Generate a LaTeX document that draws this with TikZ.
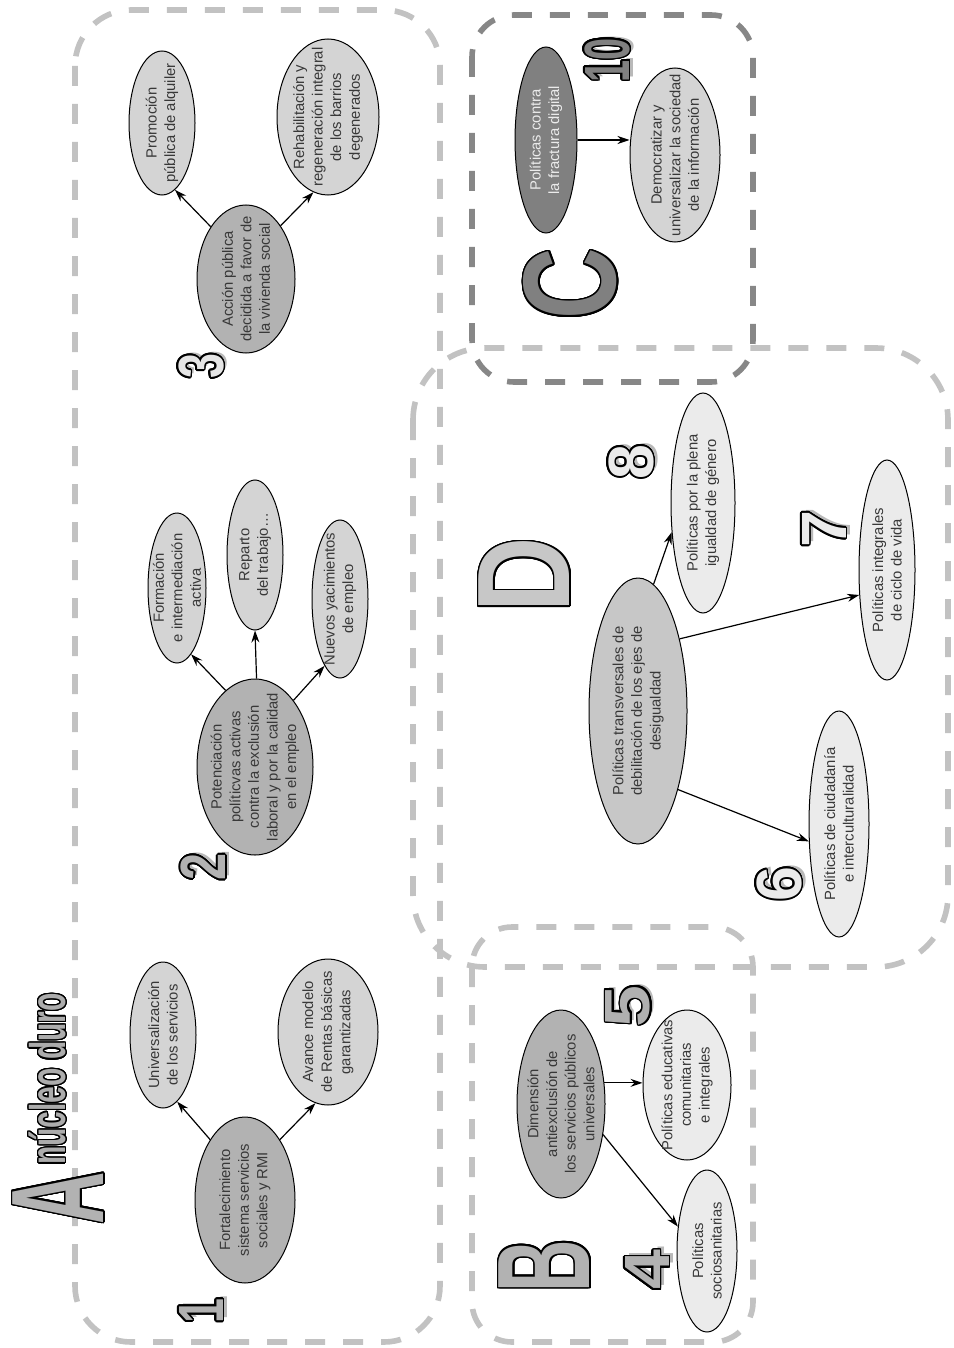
\documentclass[tikz,border=0pt]{standalone}
\usepackage{fontspec}
\setmainfont{Liberation Sans}
\usepackage{contour}
\usetikzlibrary{shapes.geometric,arrows.meta}
\contourlength{0.8pt}
\contournumber{24}

\definecolor{zonelight}{gray}{0.76}
\definecolor{zonedark}{gray}{0.53}
\definecolor{ellmid}{gray}{0.70}
\definecolor{ellsoft}{gray}{0.83}
\definecolor{ellpale}{gray}{0.92}
\definecolor{elldark}{gray}{0.50}
\definecolor{ellgrey}{gray}{0.78}

\begin{document}
\begin{tikzpicture}[x=0.5pt, y=-0.5pt,
	zonebox/.style={line width=2.8pt, dash pattern=on 10pt off 9pt},
	bubble/.style={ellipse, draw=black, line width=0.5pt, inner sep=0pt},
	txt/.style={rotate=90, align=center, inner sep=0pt, text=black!78, font=\fontsize{7.4}{9.3}\selectfont},
	arr/.style={-{Stealth[length=6pt,width=4pt]}, line width=0.6pt},
	bigletter/.style={rotate=90, inner sep=0pt, font=\fontsize{66}{66}\selectfont\bfseries},
	numlabel/.style={rotate=90, inner sep=0pt, font=\fontsize{32}{32}\selectfont\bfseries},
	numshadow/.style={numlabel, text=gray!55}]
	\useasboundingbox (0,0) rectangle (953,1348);

	% zones
	\draw[zonebox, zonelight, rounded corners=28pt] (75,10) rectangle (440,1342);
	\draw[zonebox, zonelight, rounded corners=36pt] (413,348) rectangle (948,967);
	\draw[zonebox, zonelight, rounded corners=20pt] (472,927) rectangle (753,1342);
	\draw[zonebox, zonedark, rounded corners=21pt] (472,15) rectangle (753,382);

	% headings
	\node[bigletter, text=ellmid] (letA) at (59,1198) {\contour{black}{\scalebox{0.55}[1]{A}}};
	\node[rotate=90, inner sep=0pt, font=\fontsize{25}{25}\selectfont\bfseries, text=gray!65] (core) at (48,1079) {\contourlength{0.6pt}\contour{black}{\scalebox{0.6}[1]{núcleo duro}}};
	\node[bigletter, text=ellmid] (letB) at (545,1266) {\contour{black}{\scalebox{0.55}[1]{B}}};
	\node[bigletter, text=elldark] (letC) at (571,284) {\contour{black}{\scalebox{0.75}[1]{C}}};
	\node[bigletter, text=ellgrey] (letD) at (525,575) {\contour{black}{\scalebox{0.79}[1]{D}}};

	% numbers
	\node[numshadow] (n1s) at (205,1308) {\scalebox{0.7}[1]{1}};
	\node[numlabel, text=gray!62] (n1) at (202,1311) {\contour{black}{\scalebox{0.7}[1]{1}}};
	\node[numshadow] (n2s) at (207,864) {\scalebox{0.76}[1]{2}};
	\node[numlabel, text=ellmid] (n2) at (204,867) {\contour{black}{\scalebox{0.76}[1]{2}}};
	\node[numshadow] (n3s) at (205,363) {\scalebox{0.7}[1]{3}};
	\node[numlabel, text=gray!20] (n3) at (202,366) {\contour{black}{\scalebox{0.7}[1]{3}}};
	\node[numshadow] (n4s) at (651,1267) {\scalebox{1.12}[1]{4}};
	\node[numlabel, text=ellmid] (n4) at (648,1270) {\contour{black}{\scalebox{1.12}[1]{4}}};
	\node[numshadow] (n5s) at (632,1003) {\scalebox{1.18}[1]{5}};
	\node[numlabel, text=gray!62] (n5) at (629,1006) {\contour{black}{\scalebox{1.18}[1]{5}}};
	\node[numshadow] (n6s) at (783,881) {\scalebox{0.98}[1]{6}};
	\node[numlabel, text=ellpale] (n6) at (780,884) {\contour{black}{\scalebox{0.98}[1]{6}}};
	\node[numshadow] (n7s) at (828,526) {\scalebox{1.04}[1]{7}};
	\node[numlabel, text=ellpale] (n7) at (825,529) {\contour{black}{\scalebox{1.04}[1]{7}}};
	\node[numshadow] (n8s) at (635,459) {\scalebox{0.98}[1]{8}};
	\node[numlabel, text=ellpale] (n8) at (632,462) {\contour{black}{\scalebox{0.98}[1]{8}}};
	\node[numshadow] (n10s) at (611,57) {\scalebox{0.62}[1]{10}};
	\node[numlabel, text=elldark] (n10) at (608,60) {\contour{black}{\scalebox{0.62}[1]{10}}};

	% A: nucleo duro
	\node[bubble, fill=ellmid, minimum width=50pt, minimum height=83pt] (e1) at (245,1200) {};
	\node[txt] (e1t) at (e1) {Fortalecimiento\\sistema servicios\\sociales y RMI};
	\node[bubble, fill=ellsoft, minimum width=33pt, minimum height=73pt] (e1a) at (163,1035) {};
	\node[txt] (e1at) at (e1a) {Universalización\\de los servicios};
	\node[bubble, fill=ellsoft, minimum width=50pt, minimum height=73pt] (e1b) at (328,1032) {};
	\node[txt] (e1bt) at (e1b) {Avance modelo\\de Rentas básicas\\garantizadas};

	\node[bubble, fill=ellmid, minimum width=58pt, minimum height=88pt] (e2) at (255,767) {};
	\node[txt] (e2t) at (e2) {Potenciación\\políticvas activas\\contra la exclusión\\laboral y por la calidad\\en el empleo};
	\node[bubble, fill=ellsoft, minimum width=29pt, minimum height=75pt] (e2a) at (177,588) {};
	\node[txt] (e2at) at (e2a) {Formación\\e intermediación\\activa};
	\node[bubble, fill=ellsoft, minimum width=28pt, minimum height=75pt] (e2b) at (255,555) {};
	\node[txt] (e2bt) at (e2b) {Reparto\\del trabajo…};
	\node[bubble, fill=ellsoft, minimum width=28pt, minimum height=79pt] (e2c) at (340,599) {};
	\node[txt] (e2ct) at (e2c) {Nuevos yacimientos\\de empleo};

	\node[bubble, fill=ellmid, minimum width=49pt, minimum height=74pt] (e3) at (246,279) {};
	\node[txt] (e3t) at (e3) {Acción pública\\decidida a favor de\\la vivienda social};
	\node[bubble, fill=ellsoft, minimum width=33pt, minimum height=72pt] (e3a) at (162,123) {};
	\node[txt] (e3at) at (e3a) {Promoción\\pública de alquiler};
	\node[bubble, fill=ellsoft, minimum width=51pt, minimum height=78pt] (e3b) at (328,117) {};
	\node[txt] (e3bt) at (e3b) {Rehabilitación y\\regeneración integral\\de los barrios\\degenerados};

	% C
	\node[bubble, fill=elldark, minimum width=31pt, minimum height=93pt] (ec) at (546,140) {};
	\node[txt, text=white!92!black] (ect) at (ec) {Políticas contra\\la fractura digital};
	\node[bubble, fill=ellsoft, minimum width=45pt, minimum height=87pt] (eca) at (675,155) {};
	\node[txt] (ecat) at (eca) {Democratizar y\\universalizar la sociedad\\de la información};

	% D
	\node[bubble, fill=ellgrey, minimum width=49pt, minimum height=133pt] (ed) at (638,711) {};
	\node[txt] (edt) at (ed) {Políticas transversales de\\debilitación de los ejes de\\desigualdad};
	\node[bubble, fill=ellpale, minimum width=32pt, minimum height=110pt] (ed8) at (703,503) {};
	\node[txt] (ed8t) at (ed8) {Políticas por la plena\\igualdad de género};
	\node[bubble, fill=ellpale, minimum width=28pt, minimum height=110pt] (ed7) at (887,570) {};
	\node[txt] (ed7t) at (ed7) {Políticas integrales\\de ciclo de vida};
	\node[bubble, fill=ellpale, minimum width=30pt, minimum height=113pt] (ed6) at (839,824) {};
	\node[txt] (ed6t) at (ed6) {Políticas de ciudadanía\\e interculturalidad};

	% B
	\node[bubble, fill=ellmid, minimum width=44pt, minimum height=94pt] (eb) at (561,1104) {};
	\node[txt] (ebt) at (eb) {Dimensión\\antiexclusión de\\los servicios públicos\\universales};
	\node[bubble, fill=ellpale, minimum width=44pt, minimum height=75pt] (eb5) at (687,1085) {};
	\node[txt] (eb5t) at (eb5) {Políticas educativas\\comunitarias\\e integrales};
	\node[bubble, fill=ellpale, minimum width=30pt, minimum height=81pt] (eb4) at (707,1251) {};
	\node[txt] (eb4t) at (eb4) {Políticas\\sociosanitarias};

	% connectors
	\draw[arr] (e1.120) -- (e1a.282);
	\draw[arr] (e1.60) -- (e1b.260);
	\draw[arr] (e2.111) -- (e2a.282);
	\draw[arr] (e2.89) -- (e2b.270);
	\draw[arr] (e2.60) -- (e2c.257);
	\draw[arr] (e3.124) -- (e3a.281);
	\draw[arr] (e3.57) -- (e3b.259);
	\draw[arr] (ec.east) -- (ec.east -| eca.west);
	\draw[arr] (ed.83) -- (ed8.223);
	\draw[arr] (ed.60) -- (ed7.222);
	\draw[arr] (ed.297) -- (ed6.210);
	\draw[arr] (eb.26) -- (eb.26 -| eb5.west);
	\draw[arr] (eb.324) -- (eb4.140);
\end{tikzpicture}
\end{document}
